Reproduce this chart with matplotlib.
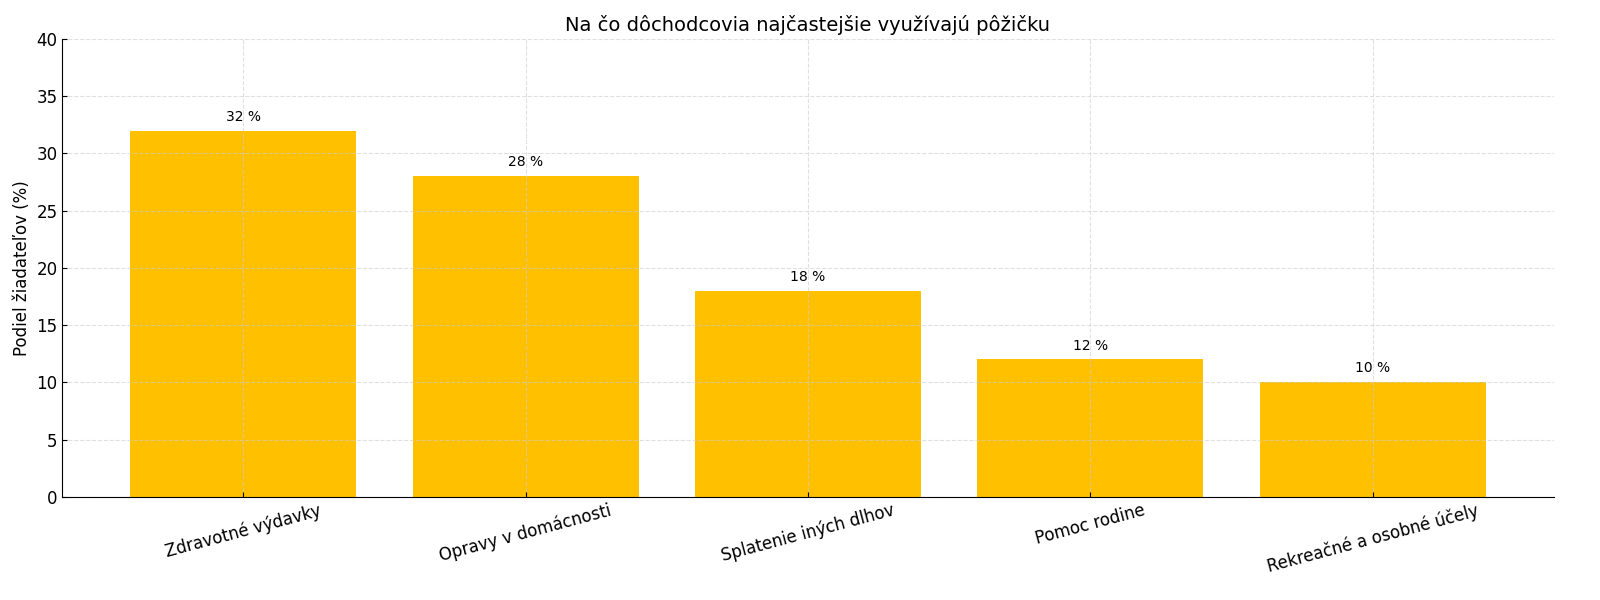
import matplotlib
matplotlib.use("Agg")
import matplotlib.pyplot as plt

categories = ["Zdravotné výdavky", "Opravy v domácnosti", "Splatenie iných dlhov",
              "Pomoc rodine", "Rekreačné a osobné účely"]
shares = [32, 28, 18, 12, 10]

fig, ax = plt.subplots(figsize=(16, 6), dpi=100)
bars = ax.bar(categories, shares, color="#FFC000", width=0.8)

for b, v in zip(bars, shares):
    ax.text(b.get_x() + b.get_width() / 2, v + 0.6, f"{v} %",
            ha="center", va="bottom", fontsize=10)

ax.set_ylim(0, 40)
ax.set_title("Na čo dôchodcovia najčastejšie využívajú pôžičku", fontsize=14)
ax.set_ylabel("Podiel žiadateľov (%)", fontsize=12)
ax.grid(True, linestyle="--", color="#cccccc", alpha=0.6)
ax.tick_params(direction="in", labelsize=12)
plt.setp(ax.get_xticklabels(), rotation=15)
ax.spines["top"].set_visible(False)
ax.spines["right"].set_visible(False)

fig.subplots_adjust(left=0.039, right=0.971, top=0.935, bottom=0.172)
fig.savefig("out.png")
